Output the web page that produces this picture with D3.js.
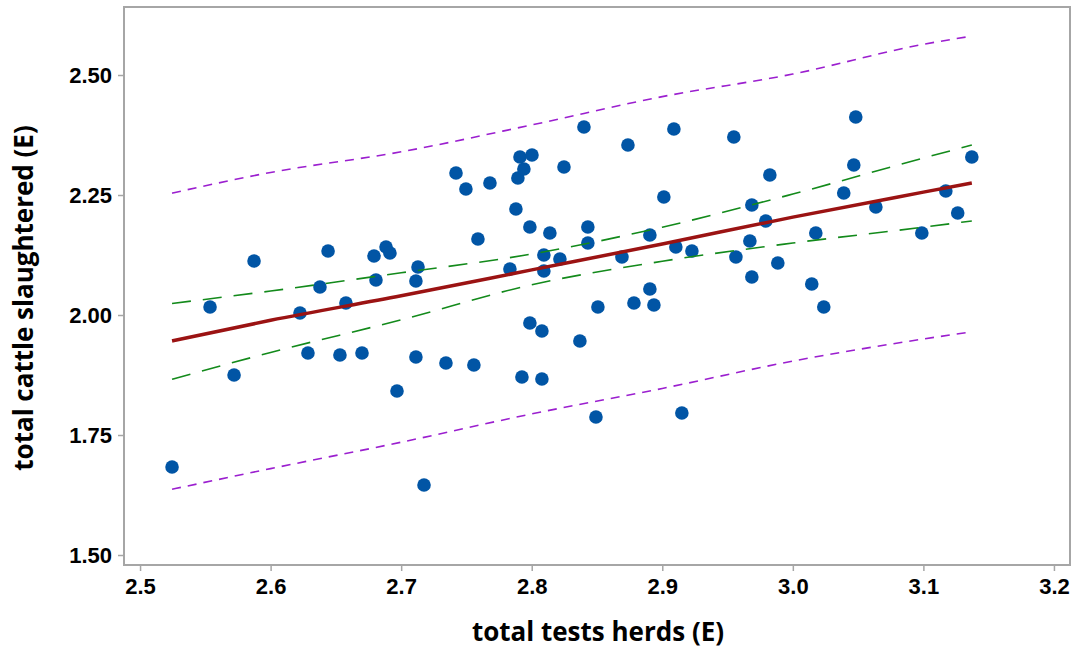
<!DOCTYPE html>
<html>
<head>
<meta charset="utf-8">
<script src="https://cdn.jsdelivr.net/npm/d3@7"></script>
<style>
  body { margin: 0; background: #fff; }
  svg { display: block; font-family: "Open Sans", "Noto Sans", sans-serif; }
</style>
</head>
<body>
<svg id="chart" width="1079" height="651"></svg>
<script>
// observed points: total tests herds (E) vs total cattle slaughtered (E)
const testsHerds = [
  2.5245, 2.5536, 2.5720, 2.5873, 2.6225, 2.6286, 2.6378, 2.6440, 2.6531, 2.6577,
  2.6700, 2.6792, 2.6807, 2.6884, 2.6914, 2.6968, 2.7113, 2.7113, 2.7129, 2.7175,
  2.7343, 2.7420, 2.7496, 2.7557, 2.7588, 2.7680, 2.7833, 2.7879, 2.7910, 2.7894,
  2.7925, 2.7940, 2.7986, 2.7986, 2.8002, 2.8078, 2.8078, 2.8093, 2.8093, 2.8139,
  2.8216, 2.8247, 2.8369, 2.8400, 2.8430, 2.8430, 2.8492, 2.8507, 2.8691, 2.8737,
  2.8783, 2.8905, 2.8905, 2.8936, 2.9012, 2.9089, 2.9104, 2.9150, 2.9227, 2.9548,
  2.9564, 2.9671, 2.9686, 2.9686, 2.9793, 2.9824, 2.9885, 3.0145, 3.0176, 3.0237,
  3.0390, 3.0467, 3.0482, 3.0636, 3.0988, 3.1172, 3.1263, 3.1371
]
const cattleSlaughtered = [
  1.6833, 2.0167, 1.8750, 2.1125, 2.0042, 1.9208, 2.0583, 2.1333, 1.9167, 2.0250,
  1.9208, 2.1229, 2.0729, 2.1417, 2.1292, 1.8417, 1.9125, 2.0708, 2.1000, 1.6458,
  1.9000, 2.2958, 2.2625, 1.8958, 2.1583, 2.2750, 2.0958, 2.2208, 2.3292, 2.2854,
  1.8708, 2.3042, 2.1833, 1.9833, 2.3333, 1.9667, 1.8667, 2.1250, 2.0917, 2.1708,
  2.1167, 2.3083, 1.9458, 2.3917, 2.1833, 2.1500, 1.7875, 2.0167, 2.1208, 2.3542,
  2.0250, 2.0542, 2.1667, 2.0208, 2.2458, 2.3875, 2.1417, 1.7958, 2.1333, 2.3708,
  2.1208, 2.1542, 2.2292, 2.0792, 2.1958, 2.2917, 2.1083, 2.0646, 2.1708, 2.0167,
  2.2542, 2.3125, 2.4125, 2.2250, 2.1708, 2.2583, 2.2125, 2.3292
]

// fitted line, 95% CI and 95% PI, read along the x axis
const bandX = [2.5245, 2.6, 2.7, 2.8, 2.9, 3.0, 3.1, 3.1371]
const fitY = [1.946, 1.989, 2.040, 2.094, 2.148, 2.204, 2.256, 2.275]
const ciHigh = [2.024, 2.050, 2.088, 2.127, 2.183, 2.252, 2.327, 2.354]
const ciLow = [1.866, 1.922, 1.990, 2.063, 2.112, 2.150, 2.183, 2.196]
const piHigh = [2.254, 2.297, 2.340, 2.396, 2.455, 2.502, 2.564, 2.581]
const piLow = [1.637, 1.680, 1.735, 1.794, 1.847, 1.904, 1.950, 1.965]

const xTicks = [2.5, 2.6, 2.7, 2.8, 2.9, 3.0, 3.1, 3.2]
const yTicks = [1.50, 1.75, 2.00, 2.25, 2.50]

const margin = {top: 7, right: 9, bottom: 86, left: 124}
const width = 1079
const height = 651

let svg = d3.select('#chart')

let x = d3.scaleLinear()
  .domain([2.4877, 3.2123])
  .range([margin.left, width - margin.right])

let y = d3.scaleLinear()
  .domain([1.4792, 2.6417])
  .range([height - margin.bottom, margin.top])

// frame
svg.append('rect')
  .attr('x', margin.left)
  .attr('y', margin.top)
  .attr('width', width - margin.left - margin.right)
  .attr('height', height - margin.top - margin.bottom)
  .attr('fill', 'none')
  .attr('stroke', '#a6a6a6')
  .attr('stroke-width', 2)

// axes
let xAxis = svg.append('g')
  .attr('transform', `translate(0,${height - margin.bottom})`)
  .call(d3.axisBottom(x).tickValues(xTicks).tickFormat(d3.format('.1f')).tickSize(6).tickPadding(7))

let yAxis = svg.append('g')
  .attr('transform', `translate(${margin.left},0)`)
  .call(d3.axisLeft(y).tickValues(yTicks).tickFormat(d3.format('.2f')).tickSize(6).tickPadding(6))

;[xAxis, yAxis].forEach((g) => {
  g.select('.domain').remove()
  g.selectAll('.tick line').attr('stroke', '#a6a6a6').attr('stroke-width', 1.5)
  g.selectAll('.tick text')
    .attr('fill', '#000')
    .style('font-size', '22px')
    .style('font-weight', 700)
})

// axis titles
svg.append('text')
  .attr('x', (margin.left + width - margin.right) / 2 + 1)
  .attr('y', 641)
  .attr('text-anchor', 'middle')
  .attr('fill', '#000')
  .style('font-size', '26px')
  .style('font-weight', 700)
  .text('total tests herds (E)')

svg.append('text')
  .attr('transform', `translate(33,${(margin.top + height - margin.bottom) / 2 + 12}) rotate(-90)`)
  .attr('text-anchor', 'middle')
  .attr('fill', '#000')
  .style('font-size', '26px')
  .style('font-weight', 700)
  .text('total cattle slaughtered (E)')

let plot = svg.append('g')

// points
plot.selectAll('circle')
  .data(testsHerds.map((v, i) => [v, cattleSlaughtered[i]]))
  .enter().append('circle')
  .attr('cx', (d) => x(d[0]))
  .attr('cy', (d) => y(d[1]))
  .attr('r', 6.8)
  .attr('fill', '#0155a5')

function drawLine (values, color, widthPx, dash) {
  let line = d3.line()
    .x((d, i) => x(bandX[i]))
    .y((d) => y(d))
    .curve(d3.curveMonotoneX)
  let p = plot.append('path')
    .datum(values)
    .attr('d', line)
    .attr('fill', 'none')
    .attr('stroke', color)
    .attr('stroke-width', widthPx)
  if (dash) {
    p.attr('stroke-dasharray', dash)
  }
  return p
}

drawLine(piHigh, '#9b1fcf', 1.6, '9,7')
drawLine(piLow, '#9b1fcf', 1.6, '9,7')
drawLine(ciHigh, '#138a1b', 1.6, '19,12')
drawLine(ciLow, '#138a1b', 1.6, '19,12')
drawLine(fitY, '#9b1313', 3.5)
</script>
</body>
</html>
